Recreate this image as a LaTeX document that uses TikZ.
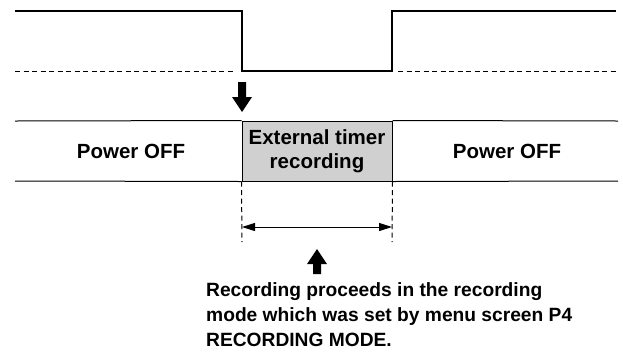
\documentclass[tikz,border=0pt]{standalone}
\usepackage{fontspec}
\setmainfont{Liberation Sans}
\usetikzlibrary{arrows.meta}
\definecolor{boxgray}{HTML}{D0D0D0}
\tikzset{
  sig/.style={line width=2bp},
  band/.style={line width=1bp},
  dash line/.style={line width=1bp, dash pattern=on 5bp off 3.5bp},
  lbl/.style={font=\bfseries\fontsize{20.5bp}{24bp}\selectfont, inner sep=0pt},
  notelbl/.style={font=\bfseries\fontsize{19.2bp}{25bp}\selectfont, inner sep=0pt},
  fatarrow/.style={fill=black, draw=none},
  dim/.style={line width=1bp, {Triangle[length=13bp,width=8bp]}-{Triangle[length=13bp,width=8bp]}}
}
\begin{document}
\begin{tikzpicture}[x=1bp,y=-1bp]
\useasboundingbox (0,0) rectangle (623,354);
% signal
\coordinate (s0) at (15,11);
\coordinate (s1) at (242,11);
\coordinate (s2) at (242,71);
\coordinate (s3) at (392,71);
\coordinate (s4) at (392,11);
\coordinate (s5) at (616,11);
\draw[sig] (s0) -- (s1) -- (s2) -- (s3) -- (s4) -- (s5);
\coordinate (d0) at (15,71);
\coordinate (d1) at (236,71);
\coordinate (d2) at (398,71);
\coordinate (d3) at (618,71);
\draw[dash line] (d0) -- (d1);
\draw[dash line] (d2) -- (d3);
% down arrow
\fill[fatarrow] (238,82) -- (246,82) -- (246,97) -- (252,97) -- (242,112) -- (232,97) -- (238,97) -- cycle;
% band
\node[draw, band, fill=boxgray, minimum width=150bp, minimum height=60bp, inner sep=0pt, align=center, lbl] (ext) at (317,151) {External timer\\recording};
\coordinate (b0) at (15,121);
\coordinate (b1) at (618,121);
\coordinate (b2) at (15,181);
\coordinate (b3) at (618,181);
\draw[band] (b0) -- (ext.north west);
\draw[band] (ext.north east) -- (b1);
\draw[band] (b2) -- (ext.south west);
\draw[band] (ext.south east) -- (b3);
\node[lbl] (offl) at (131,151) {Power OFF};
\node[lbl] (offr) at (507,151) {Power OFF};
% dimension
\coordinate (v0) at (242,242);
\coordinate (v1) at (392,242);
\draw[dash line] (ext.south west) -- (v0);
\draw[dash line] (ext.south east) -- (v1);
\coordinate (a0) at (242,227);
\coordinate (a1) at (392,227);
\draw[dim] (a0) -- (a1);
% up arrow
\fill[fatarrow] (313,274) -- (321,274) -- (321,264) -- (327,264) -- (317,249) -- (307,264) -- (313,264) -- cycle;
\node[notelbl, anchor=north west, align=left] (note) at (206,282.5) {Recording proceeds in the recording\\mode which was set by menu screen P4\\RECORDING MODE.};
\end{tikzpicture}
\end{document}
